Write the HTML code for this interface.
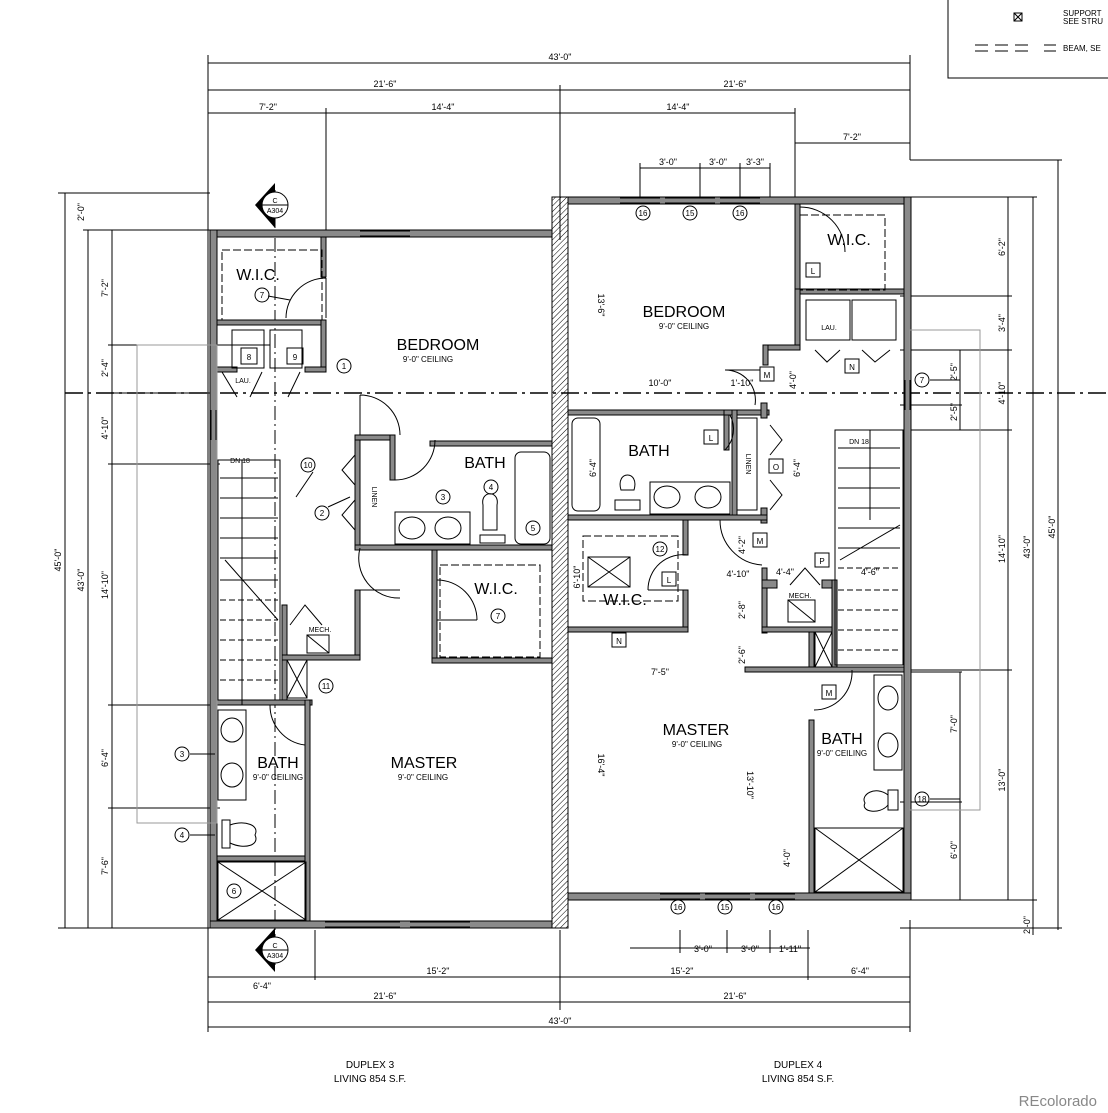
<!DOCTYPE html>
<html><head><style>
html,body{margin:0;padding:0;background:#fff}
svg{display:block}
.w{fill:#8a8a8a;stroke:#000;stroke-width:1}
.d{stroke:#000;stroke-width:1;fill:none}
.t{font-family:"Liberation Sans",sans-serif;fill:#000}
.s{font-size:9px}
.r{font-size:16px}
.l{font-size:8px}
.f{fill:none;stroke:#000;stroke-width:1}
</style></head><body>
<svg width="1108" height="1113" viewBox="0 0 1108 1113" xmlns="http://www.w3.org/2000/svg">
<defs><pattern id="h" width="4" height="4" patternUnits="userSpaceOnUse" patternTransform="rotate(45)"><line x1="0" y1="0" x2="0" y2="4" stroke="#000" stroke-width="1"/></pattern></defs>

<!-- legend -->
<path d="M948 0 V78 H1108" class="f" stroke-width="2"/>
<rect x="1014" y="13" width="8" height="8" class="f"/><path d="M1014 13 L1022 21 M1022 13 L1014 21" class="d"/>
<text x="1063" y="16" class="t l">SUPPORT</text><text x="1063" y="24" class="t l">SEE STRU</text>
<path d="M975 45 H988 M995 45 H1008 M1015 45 H1028 M1044 45 H1056 M975 51 H988 M995 51 H1008 M1015 51 H1028 M1044 51 H1056" class="d"/>
<text x="1063" y="51" class="t l">BEAM, SE</text>

<!-- dimension lines -->
<g class="d">
<path d="M208 63 H910 M208 90 H910 M208 113 H795 M795 143 H910 M640 168 H770 M208 55 V1032 M910 55 V160 M560 85 V240 M326 108 V240 M795 108 V200 M640 163 V200 M700 163 V200 M740 163 V200 M770 163 V200"/>
<path d="M630 948 H810 M208 977 H910 M208 1002 H910 M208 1027 H910 M910 920 V1032 M560 930 V1010 M315 930 V980 M808 930 V980 M680 930 V953 M727 930 V953 M770 930 V953"/>
<path d="M58 193 H210 M83 230 H210 M108 230 H210 M108 345 H270 M108 393 H210 M108 464 H220 M108 705 H220 M108 808 H220 M58 928 H210 M83 928 H210 M108 928 H210 M65 193 V928 M88 230 V928 M112 230 V928"/>
<path d="M910 160 H1062 M910 197 H1037 M900 296 H1012 M900 350 H1012 M900 405 H962 M900 430 H1012 M900 670 H1012 M900 672 H962 M900 802 H962 M900 900 H1037 M900 928 H1062 M1058 160 V930 M1033 197 V935 M1008 197 V900 M960 350 V430 M960 672 V900"/>
</g>
<g class="t s" text-anchor="middle">
<text x="560" y="60">43'-0"</text><text x="385" y="87">21'-6"</text><text x="735" y="87">21'-6"</text>
<text x="268" y="110">7'-2"</text><text x="443" y="110">14'-4"</text><text x="678" y="110">14'-4"</text>
<text x="852" y="140">7'-2"</text><text x="668" y="165">3'-0"</text><text x="718" y="165">3'-0"</text><text x="755" y="165">3'-3"</text>
<text x="703" y="952">3'-0"</text><text x="750" y="952">3'-0"</text><text x="790" y="952">1'-11"</text>
<text x="262" y="989">6'-4"</text><text x="438" y="974">15'-2"</text><text x="682" y="974">15'-2"</text><text x="860" y="974">6'-4"</text>
<text x="385" y="999">21'-6"</text><text x="735" y="999">21'-6"</text><text x="560" y="1024">43'-0"</text>
<text x="660" y="386">10'-0"</text><text x="742" y="386">1'-10"</text><text x="738" y="577">4'-10"</text><text x="785" y="575">4'-4"</text><text x="870" y="575">4'-6"</text><text x="660" y="675">7'-5"</text>
</g>
<g class="t s" text-anchor="middle">
<text transform="translate(61,560) rotate(-90)">45'-0"</text><text transform="translate(84,580) rotate(-90)">43'-0"</text>
<text transform="translate(84,212) rotate(-90)">2'-0"</text><text transform="translate(108,288) rotate(-90)">7'-2"</text>
<text transform="translate(108,368) rotate(-90)">2'-4"</text><text transform="translate(108,428) rotate(-90)">4'-10"</text>
<text transform="translate(108,585) rotate(-90)">14'-10"</text><text transform="translate(108,758) rotate(-90)">6'-4"</text><text transform="translate(108,866) rotate(-90)">7'-6"</text>
<text transform="translate(1055,527) rotate(-90)">45'-0"</text><text transform="translate(1030,547) rotate(-90)">43'-0"</text>
<text transform="translate(1005,247) rotate(-90)">6'-2"</text><text transform="translate(1005,323) rotate(-90)">3'-4"</text><text transform="translate(1005,393) rotate(-90)">4'-10"</text>
<text transform="translate(1005,549) rotate(-90)">14'-10"</text><text transform="translate(1005,780) rotate(-90)">13'-0"</text><text transform="translate(1030,925) rotate(-90)">2'-0"</text>
<text transform="translate(957,372) rotate(-90)">2'-5"</text><text transform="translate(957,412) rotate(-90)">2'-5"</text>
<text transform="translate(957,724) rotate(-90)">7'-0"</text><text transform="translate(957,850) rotate(-90)">6'-0"</text>
<text transform="translate(598,305) rotate(90)">13'-6"</text><text transform="translate(598,765) rotate(90)">16'-4"</text><text transform="translate(747,785) rotate(90)">13'-10"</text>
<text transform="translate(790,858) rotate(-90)">4'-0"</text><text transform="translate(745,545) rotate(-90)">4'-2"</text><text transform="translate(745,610) rotate(-90)">2'-8"</text><text transform="translate(745,655) rotate(-90)">2'-6"</text>
<text transform="translate(580,577) rotate(-90)">6'-10"</text><text transform="translate(596,468) rotate(-90)">6'-4"</text><text transform="translate(800,468) rotate(-90)">6'-4"</text><text transform="translate(796,380) rotate(-90)">4'-0"</text>
</g>

<!-- grid dash-dot line -->
<path d="M65 393 H1108" stroke="#000" stroke-width="1.5" stroke-dasharray="18 5 3 5"/>
<path d="M275 190 V965" stroke="#000" stroke-width="1" stroke-dasharray="14 4 2 4"/>

<!-- party wall -->
<rect x="552" y="197" width="16" height="731" fill="url(#h)" stroke="#000"/>

<!-- LEFT UNIT exterior -->
<rect class="w" x="210" y="230" width="342" height="7"/>
<rect class="w" x="210" y="230" width="7" height="698"/>
<rect class="w" x="210" y="921" width="342" height="7"/>
<!-- left interior -->
<rect class="w" x="321" y="237" width="5" height="40"/>
<rect class="w" x="217" y="320" width="109" height="5"/>
<rect class="w" x="321" y="320" width="5" height="52"/>
<rect class="w" x="217" y="367" width="20" height="5"/>
<rect class="w" x="305" y="367" width="21" height="5"/>
<rect class="w" x="355" y="435" width="5" height="112"/>
<rect class="w" x="355" y="435" width="35" height="5"/>
<rect class="w" x="390" y="435" width="5" height="45"/>
<rect class="w" x="430" y="441" width="122" height="5"/>
<rect class="w" x="355" y="545" width="197" height="5"/>
<rect class="w" x="432" y="550" width="5" height="110"/>
<rect class="w" x="432" y="658" width="120" height="5"/>
<rect class="w" x="355" y="590" width="5" height="70"/>
<rect class="w" x="282" y="605" width="5" height="95"/>
<rect class="w" x="282" y="655" width="78" height="5"/>
<rect class="w" x="217" y="700" width="95" height="5"/>
<rect class="w" x="305" y="700" width="5" height="221"/>
<rect class="w" x="217" y="856" width="88" height="5"/>

<!-- RIGHT UNIT exterior -->
<rect class="w" x="568" y="197" width="343" height="7"/>
<rect class="w" x="904" y="197" width="7" height="703"/>
<rect class="w" x="568" y="893" width="343" height="7"/>
<!-- right interior -->
<rect class="w" x="795" y="204" width="5" height="85"/>
<rect class="w" x="795" y="289" width="109" height="5"/>
<rect class="w" x="795" y="289" width="5" height="56"/>
<rect class="w" x="763" y="345" width="37" height="5"/>
<rect class="w" x="763" y="345" width="5" height="20"/>
<rect class="w" x="568" y="410" width="157" height="5"/>
<rect class="w" x="724" y="410" width="5" height="40"/>
<rect class="w" x="724" y="410" width="45" height="5"/>
<rect class="w" x="732" y="410" width="5" height="105"/>
<rect class="w" x="761" y="403" width="6" height="15"/>
<rect class="w" x="761" y="508" width="6" height="15"/>
<rect class="w" x="568" y="515" width="199" height="5"/>
<rect class="w" x="683" y="520" width="5" height="35"/>
<rect class="w" x="683" y="590" width="5" height="40"/>
<rect class="w" x="568" y="627" width="120" height="5"/>
<rect class="w" x="762" y="568" width="5" height="65"/>
<rect class="w" x="762" y="580" width="15" height="8"/>
<rect class="w" x="822" y="580" width="15" height="8"/>
<rect class="w" x="762" y="627" width="75" height="5"/>
<rect class="w" x="832" y="580" width="5" height="90"/>
<rect class="w" x="809" y="632" width="5" height="40"/>
<rect class="w" x="745" y="667" width="159" height="5"/>
<rect class="w" x="809" y="720" width="5" height="173"/>

<!-- doors -->
<g class="d">
<path d="M326 278 A40 40 0 0 0 286 318 M326 278 V318"/>
<path d="M360 395 A40 40 0 0 1 400 435 M360 395 V435"/>
<path d="M395 480 A40 40 0 0 0 435 440"/>
<path d="M360 548 A40 40 0 0 0 400 598 M360 590 H400"/>
<path d="M437 580 A40 40 0 0 1 477 620 M437 620 H477"/>
<path d="M270 705 A40 40 0 0 0 305 745"/>
<path d="M222 372 L237 397 M300 372 L288 397 M262 372 L250 397"/>
<path d="M355 455 L342 470 L355 485 M355 500 L342 515 L355 530"/>
<path d="M290 625 L305 605 L322 625"/>
<path d="M725 370 A30 30 0 0 1 755 405 M725 370 H760"/>
<path d="M725 450 A30 30 0 0 0 730 415"/>
<path d="M720 520 A45 45 0 0 0 762 565"/>
<path d="M688 555 A35 35 0 0 0 648 590 M648 590 H688"/>
<path d="M770 425 L782 440 L770 455 M770 480 L782 495 L770 510"/>
<path d="M790 585 L805 568 L820 585"/>
<path d="M800 207 A45 45 0 0 1 845 252"/>
<path d="M852 670 A38 38 0 0 1 814 710"/>
<path d="M815 350 L827 362 L840 350 M862 350 L875 362 L890 350"/>
</g>

<!-- stairs left -->
<g class="d">
<rect x="218" y="460" width="62" height="240"/>
<path d="M220 478 H278 M220 498 H278 M220 518 H278 M220 538 H278 M220 558 H278 M220 580 H278"/>
<path d="M220 600 H278 M220 620 H278 M220 640 H278 M220 660 H278 M220 680 H278" stroke-dasharray="6 3"/>
<path d="M242 460 V705 M225 560 L278 620"/>
<rect x="287" y="660" width="20" height="38"/><path d="M287 660 L307 698 M307 660 L287 698"/>
<rect x="307" y="635" width="22" height="18"/><path d="M307 635 L329 653"/>
</g>
<!-- stairs right -->
<g class="d">
<rect x="835" y="430" width="68" height="235"/>
<path d="M838 448 H900 M838 468 H900 M838 488 H900 M838 508 H900 M838 528 H900 M838 548 H900"/>
<path d="M838 568 H900 M838 590 H900 M838 610 H900 M838 630 H900 M838 650 H900" stroke-dasharray="6 3"/>
<path d="M870 430 V520 M840 560 L900 525"/>
<rect x="815" y="632" width="17" height="35"/><path d="M815 632 L832 667 M832 632 L815 667"/>
<rect x="788" y="600" width="27" height="22"/><path d="M788 600 L815 622"/>
</g>

<!-- fixtures left -->
<g class="d">
<rect x="232" y="330" width="32" height="38"/><rect x="270" y="330" width="32" height="38"/>
<rect x="515" y="452" width="35" height="92" rx="6"/>
<rect x="395" y="512" width="75" height="32"/>
<ellipse cx="412" cy="528" rx="13" ry="11"/><ellipse cx="448" cy="528" rx="13" ry="11"/>
<path d="M483 505 C480 490 500 490 497 505 L497 530 H483 Z"/><rect x="480" y="535" width="25" height="8"/>
<rect x="218" y="710" width="28" height="90"/>
<ellipse cx="232" cy="730" rx="11" ry="12"/><ellipse cx="232" cy="775" rx="11" ry="12"/>
<path d="M230 825 C245 820 260 825 255 835 C260 845 245 850 230 843 Z"/><rect x="222" y="820" width="8" height="28"/>
<rect x="218" y="862" width="88" height="58"/><path d="M218 862 L306 920 M306 862 L218 920"/>
<rect x="440" y="565" width="100" height="92" stroke-dasharray="8 3"/>
<rect x="222" y="250" width="100" height="70" stroke-dasharray="8 3"/>
</g>
<!-- fixtures right -->
<g class="d">
<rect x="806" y="300" width="44" height="40"/><rect x="852" y="300" width="44" height="40"/>
<rect x="572" y="418" width="28" height="93" rx="6"/>
<rect x="650" y="482" width="80" height="32"/>
<ellipse cx="667" cy="497" rx="13" ry="11"/><ellipse cx="708" cy="497" rx="13" ry="11"/>
<path d="M621 490 C615 470 640 470 634 490 Z"/><rect x="615" y="500" width="25" height="10"/>
<rect x="737" y="418" width="20" height="92"/>
<rect x="583" y="536" width="95" height="65" stroke-dasharray="8 3"/>
<rect x="588" y="557" width="42" height="30"/><path d="M588 557 L630 587 M630 557 L588 587"/>
<rect x="874" y="675" width="28" height="95"/>
<ellipse cx="888" cy="698" rx="10" ry="12"/><ellipse cx="888" cy="745" rx="10" ry="12"/>
<path d="M888 795 C875 785 860 795 865 803 C860 812 880 815 888 805 Z"/><rect x="888" y="790" width="10" height="20"/>
<rect x="815" y="828" width="88" height="64"/><path d="M815 828 L903 892 M903 828 L815 892"/>
<rect x="800" y="215" width="85" height="75" stroke-dasharray="8 3"/>
<rect x="910" y="330" width="70" height="480" stroke="#999"/>
<rect x="137" y="345" width="80" height="478" stroke="#999"/>
</g>

<!-- windows -->
<g class="d">
<path d="M360 231 H410 M360 236 H410 M325 922 H400 M325 927 H400 M410 922 H470 M410 927 H470"/>
<path d="M620 198 H660 M620 203 H660 M665 198 H715 M665 203 H715 M720 198 H760 M720 203 H760"/>
<path d="M660 894 H700 M660 899 H700 M705 894 H750 M705 899 H750 M755 894 H795 M755 899 H795"/>
<path d="M905 380 V410 M910 380 V410 M211 410 V440 M216 410 V440"/>
</g>

<!-- tags -->
<g class="d">
<circle cx="262" cy="295" r="7"/><circle cx="344" cy="366" r="7"/><circle cx="308" cy="465" r="7"/><circle cx="322" cy="513" r="7"/>
<circle cx="443" cy="497" r="7"/><circle cx="491" cy="487" r="7"/><circle cx="533" cy="528" r="7"/><circle cx="498" cy="616" r="7"/>
<circle cx="326" cy="686" r="7"/><circle cx="182" cy="754" r="7"/><circle cx="182" cy="835" r="7"/><circle cx="234" cy="891" r="7"/>
<circle cx="643" cy="213" r="7"/><circle cx="690" cy="213" r="7"/><circle cx="740" cy="213" r="7"/>
<circle cx="678" cy="907" r="7"/><circle cx="725" cy="907" r="7"/><circle cx="776" cy="907" r="7"/>
<circle cx="922" cy="380" r="7"/><circle cx="922" cy="799" r="7"/><circle cx="660" cy="549" r="7"/>
<rect x="241" y="348" width="16" height="16"/><rect x="287" y="348" width="16" height="16"/>
<rect x="806" y="263" width="14" height="14"/><rect x="845" y="359" width="14" height="14"/><rect x="760" y="367" width="14" height="14"/>
<rect x="704" y="430" width="14" height="14"/><rect x="769" y="459" width="14" height="14"/><rect x="753" y="533" width="14" height="14"/>
<rect x="662" y="572" width="14" height="14"/><rect x="815" y="553" width="14" height="14"/><rect x="612" y="633" width="14" height="14"/>
<rect x="822" y="685" width="14" height="14"/>
<path d="M190 754 H215 M190 835 H215 M313 472 L296 497 M328 507 L350 497 M268 296 L290 300 M930 380 H960 M930 799 H960" />
</g>
<g class="t" font-size="8" text-anchor="middle">
<text x="262" y="298">7</text><text x="344" y="369">1</text><text x="308" y="468">10</text><text x="322" y="516">2</text>
<text x="443" y="500">3</text><text x="491" y="490">4</text><text x="533" y="531">5</text><text x="498" y="619">7</text>
<text x="326" y="689">11</text><text x="182" y="757">3</text><text x="182" y="838">4</text><text x="234" y="894">6</text>
<text x="643" y="216">16</text><text x="690" y="216">15</text><text x="740" y="216">16</text>
<text x="678" y="910">16</text><text x="725" y="910">15</text><text x="776" y="910">16</text>
<text x="922" y="383">7</text><text x="922" y="802">18</text><text x="660" y="552">12</text>
<text x="249" y="360">8</text><text x="295" y="360">9</text>
<text x="813" y="274">L</text><text x="852" y="370">N</text><text x="767" y="378">M</text><text x="711" y="441">L</text>
<text x="776" y="470">O</text><text x="760" y="544">M</text><text x="669" y="583">L</text><text x="822" y="564">P</text><text x="619" y="644">N</text><text x="829" y="696">M</text>
</g>

<!-- section markers -->
<g>
<path d="M255 205 L275 183 L275 228 Z" fill="#000"/><circle cx="275" cy="205" r="13" fill="#fff" stroke="#000"/>
<path d="M255 950 L275 928 L275 972 Z" fill="#000"/><circle cx="275" cy="950" r="13" fill="#fff" stroke="#000"/>
<path d="M262 205 H288 M262 950 H288" class="d"/>
</g>
<g class="t" font-size="7" text-anchor="middle">
<text x="275" y="203">C</text><text x="275" y="213">A304</text><text x="275" y="948">C</text><text x="275" y="958">A304</text>
</g>

<!-- room labels -->
<g class="t" text-anchor="middle">
<text x="258" y="280" class="r">W.I.C.</text>
<text x="438" y="350" class="r">BEDROOM</text><text x="428" y="362" class="l">9'-0" CEILING</text>
<text x="485" y="468" class="r">BATH</text>
<text x="496" y="594" class="r">W.I.C.</text>
<text x="424" y="768" class="r">MASTER</text><text x="423" y="780" class="l">9'-0" CEILING</text>
<text x="278" y="768" class="r">BATH</text><text x="278" y="780" class="l">9'-0" CEILING</text>
<text x="243" y="383" font-size="7">LAU.</text>
<text x="240" y="463" font-size="7">DN 18</text>
<text x="320" y="632" font-size="7">MECH.</text>
<text x="849" y="245" class="r">W.I.C.</text>
<text x="684" y="317" class="r">BEDROOM</text><text x="684" y="329" class="l">9'-0" CEILING</text>
<text x="649" y="456" class="r">BATH</text>
<text x="625" y="605" class="r">W.I.C.</text>
<text x="696" y="735" class="r">MASTER</text><text x="697" y="747" class="l">9'-0" CEILING</text>
<text x="842" y="744" class="r">BATH</text><text x="842" y="756" class="l">9'-0" CEILING</text>
<text x="829" y="330" font-size="7">LAU.</text>
<text x="859" y="444" font-size="7">DN 18</text>
<text x="800" y="598" font-size="7">MECH.</text>
<text transform="translate(372,497) rotate(90)" font-size="7">LINEN</text>
<text transform="translate(746,464) rotate(90)" font-size="7">LINEN</text>
<text x="370" y="1068" font-size="10">DUPLEX 3</text><text x="370" y="1082" font-size="10">LIVING 854 S.F.</text>
<text x="798" y="1068" font-size="10">DUPLEX 4</text><text x="798" y="1082" font-size="10">LIVING 854 S.F.</text>
</g>
<text x="1097" y="1106" text-anchor="end" class="t" font-size="15" style="fill:#888">REcolorado</text>
</svg>
</body></html>
